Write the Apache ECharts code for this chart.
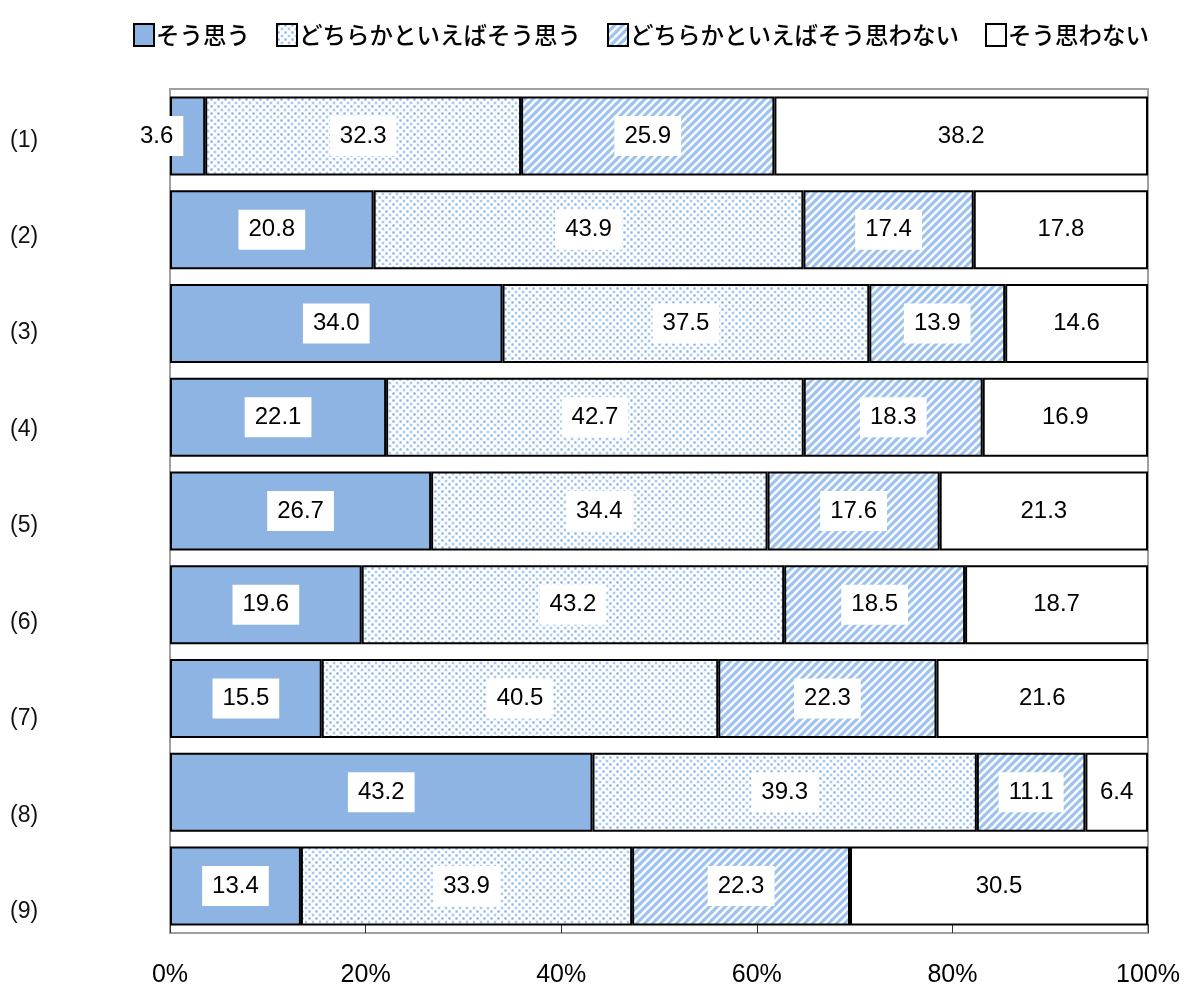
<!DOCTYPE html>
<html><head><meta charset="utf-8">
<script src="https://cdn.jsdelivr.net/npm/echarts@6/dist/echarts.min.js"></script>
<style>html,body{margin:0;padding:0;background:#fff}#c{width:1186px;height:988px}</style>
</head><body><div id="c"></div>
<script>
const categories = ['(1)','(2)','(3)','(4)','(5)','(6)','(7)','(8)','(9)'];
const seriesNames = ['そう思う','どちらかといえばそう思う','どちらかといえばそう思わない','そう思わない'];
const soOmou = [3.6, 20.8, 34.0, 22.1, 26.7, 19.6, 15.5, 43.2, 13.4];
const dochiraOmou = [32.3, 43.9, 37.5, 42.7, 34.4, 43.2, 40.5, 39.3, 33.9];
const dochiraOmowanai = [25.9, 17.4, 13.9, 18.3, 17.6, 18.5, 22.3, 11.1, 22.3];
const soOmowanai = [38.2, 17.8, 14.6, 16.9, 21.3, 18.7, 21.6, 6.4, 30.5];
const xTickLabels = ['0%','20%','40%','60%','80%','100%'];

const allVals = [soOmou, dochiraOmou, dochiraOmowanai, soOmowanai];
const sums = categories.map((_, i) => allVals.reduce((s, a) => s + a[i], 0));

function dotPattern() {
  const c = document.createElement('canvas'); c.width = 7; c.height = 7;
  const g = c.getContext('2d');
  g.fillStyle = '#fff'; g.fillRect(0, 0, 7, 7);
  g.fillStyle = '#d2e3f7';
  g.fillRect(0, 0, 3, 3);
  g.fillStyle = '#8ab6ea';
  g.fillRect(1, 1, 1, 1);
  g.fillStyle = '#a9c9f0';
  g.fillRect(1, 0, 1, 1); g.fillRect(0, 1, 1, 1); g.fillRect(2, 1, 1, 1); g.fillRect(1, 2, 1, 1);
  g.fillStyle = '#d2e3f7';
  g.fillRect(3.5, 3.5, 3, 3);
  g.fillStyle = '#a9c9f0';
  g.fillRect(4, 4, 2, 2);
  return c;
}
function hatchPattern() {
  const s = 8;
  const c = document.createElement('canvas'); c.width = s; c.height = s;
  const g = c.getContext('2d');
  g.fillStyle = '#fff'; g.fillRect(0, 0, s, s);
  g.strokeStyle = '#9fc3ee'; g.lineWidth = 3.2;
  g.beginPath();
  g.moveTo(-1, s + 1); g.lineTo(s + 1, -1);
  g.moveTo(-1, 1); g.lineTo(1, -1);
  g.moveTo(s - 1, s + 1); g.lineTo(s + 1, s - 1);
  g.stroke();
  return c;
}
const fills = [
  '#8db4e2',
  { image: dotPattern(), repeat: 'repeat' },
  { image: hatchPattern(), repeat: 'repeat' },
  '#ffffff'
];

const series = seriesNames.map((name, si) => ({
  name, type: 'bar', stack: 'total', barWidth: 79,
  itemStyle: { color: fills[si], borderColor: '#000', borderWidth: 2 },
  label: {
    show: true, position: 'inside', color: '#000', fontSize: 24,
    fontFamily: 'Liberation Sans, Arial, sans-serif',
    backgroundColor: '#fff', padding: [8, 10],
    formatter: p => p.data.raw.toFixed(1)
  },
  data: allVals[si].map((v, i) => {
    const d = { value: v / sums[i] * 100, raw: v };
    if (v < 5) d.label = { offset: [-31, 0] };
    return d;
  })
}));

const chart = echarts.init(document.getElementById('c'));
chart.setOption({
  animation: false,
  backgroundColor: '#fff',
  legend: {
    left: 128, top: 18, itemWidth: 20, itemHeight: 22, itemGap: 26, icon: 'rect',
    textStyle: { fontSize: 23.5, color: '#000', fontFamily: 'Noto Sans CJK JP', fontWeight: 500, padding: [0, 0, 0, -3] },
    data: seriesNames
  },
  grid: [
    { left: 170, right: 38, top: 89, bottom: 50, show: true, borderColor: '#a0a0a0', borderWidth: 2, backgroundColor: 'transparent' },
    { left: 170, right: 38, top: 92, bottom: 28 }
  ],
  xAxis: [{
    type: 'value', min: 0, max: 100, interval: 20, gridIndex: 0,
    axisLine: { show: true, lineStyle: { color: '#a0a0a0', width: 2 } },
    axisTick: { show: true, inside: true, length: 9, lineStyle: { color: '#333', width: 1 } },
    splitLine: { show: false },
    axisLabel: { margin: 30, fontSize: 25, color: '#000', fontWeight: 500, fontFamily: 'Liberation Sans Narrow, Liberation Sans, sans-serif',
      formatter: v => xTickLabels[Math.round(v / 20)] }
  }, {
    type: 'value', min: 0, max: 100, gridIndex: 1, show: false
  }],
  yAxis: [{
    type: 'category', data: categories, inverse: true, gridIndex: 0,
    axisLine: { show: true, lineStyle: { color: '#a0a0a0', width: 2 } },
    axisTick: { show: false },
    axisLabel: { show: false }
  }, {
    type: 'category', data: categories, inverse: true, gridIndex: 1,
    axisLine: { show: false }, axisTick: { show: false }, splitLine: { show: false },
    axisLabel: { align: 'left', margin: 160, fontSize: 23, color: '#111', fontFamily: 'Liberation Sans, Arial, sans-serif' }
  }],
  series
});
</script></body></html>
